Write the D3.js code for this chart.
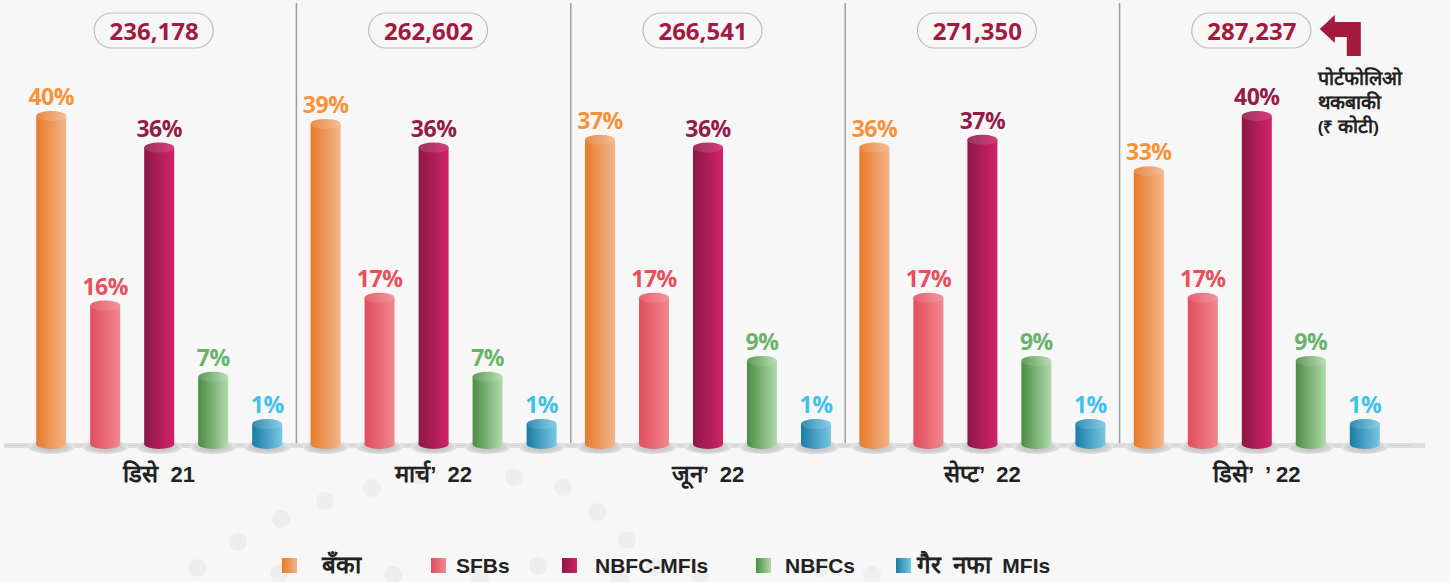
<!DOCTYPE html>
<html><head><meta charset="utf-8">
<script src="https://cdn.jsdelivr.net/npm/d3@7"></script>
<style>
html,body{margin:0;padding:0;background:#f7f7f7;}
svg{display:block;}
</style></head>
<body>
<svg id="chart" width="1450" height="582"></svg>
<script>
// ---- data ----
const categories = ["डिसे 21", "मार्च’ 22", "जून’ 22", "सेप्ट’ 22", "डिसे’ ’ 22"];
const totals = [236178, 262602, 266541, 271350, 287237];
const seriesNames = ["बँका", "SFBs", "NBFC-MFIs", "NBFCs", "गैर नफा MFIs"];
const banks     = [40, 39, 37, 36, 33];
const sfbs      = [16, 17, 17, 17, 17];
const nbfcMfis  = [36, 36, 36, 37, 40];
const nbfcs     = [7, 7, 9, 9, 9];
const nonProfit = [1, 1, 1, 1, 1];
const annotationLines = ["पोर्टफोलिओ", "थकबाकी", "(₹ कोटी)"];

const seriesValues = [banks, sfbs, nbfcMfis, nbfcs, nonProfit];
const seriesStyle = [
  {dark:"#e77a2c", light:"#f3b588", label:"#f7923a"},
  {dark:"#e14d5d", light:"#f2878f", label:"#e8505b"},
  {dark:"#8c1944", light:"#d02268", label:"#951b48"},
  {dark:"#4b8d44", light:"#b0dbab", label:"#6ab46a"},
  {dark:"#1a7ca5", light:"#78c7e4", label:"#3fc1ec"}
];

const svg = d3.select("#chart");
const W = 1450, H = 582;
svg.append("rect").attr("width", W).attr("height", H).attr("fill", "#f7f7f7");

// helper: mixed Latin / Devanagari text, Devanagari runs drawn a bit larger
function mixedText(textSel, str, size, devaScale) {
  const parts = str.split(/([\u0900-\u097F]+)/).filter(p => p.length);
  parts.forEach(p => {
    const isDeva = /[\u0900-\u097F]/.test(p);
    textSel.append("tspan").attr("font-size", isDeva ? size * devaScale : size).text(p);
  });
}

const defs = svg.append("defs");
seriesStyle.forEach((s, i) => {
  const g = defs.append("linearGradient").attr("id", "body" + i).attr("x1", 0).attr("x2", 1).attr("y1", 0).attr("y2", 0);
  g.append("stop").attr("offset", "0%").attr("stop-color", s.dark);
  g.append("stop").attr("offset", "100%").attr("stop-color", s.light);
  const t = defs.append("linearGradient").attr("id", "top" + i).attr("x1", 0).attr("x2", 1).attr("y1", 0).attr("y2", 0);
  t.append("stop").attr("offset", "0%").attr("stop-color", d3.interpolateRgb(s.dark, "#fff")(0.12));
  t.append("stop").attr("offset", "100%").attr("stop-color", d3.interpolateRgb(s.light, "#fff")(0.12));
});
const sh = defs.append("radialGradient").attr("id", "shadow");
sh.append("stop").attr("offset", "0%").attr("stop-color", "#bdbdbd");
sh.append("stop").attr("offset", "70%").attr("stop-color", "#cfcfcf");
sh.append("stop").attr("offset", "100%").attr("stop-color", "#e4e4e4");

// decorative faint dots
const dots = [[198,568],[238,542],[281,519],[325,501],[372,488],[419,476],[514,477],[563,487],[598,512],[627,540],[655,567],[279,574],[393,575],[480,578],[538,566],[620,580],[700,576],[820,568],[872,575]];
svg.append("g").selectAll("circle").data(dots).join("circle")
  .attr("cx", d => d[0]).attr("cy", d => d[1]).attr("r", 9).attr("fill", "#eeeeee");

// ---- scales ----
const x0 = d3.scaleBand().domain(categories).range([22, 1394]).padding(0);
const x1 = d3.scalePoint().domain(seriesNames).range([-108, 108]);
const y = d3.scaleLinear().domain([0, 40]).range([432, 116]);
const yBase = 444;
const barW = 30, ry = 5;

// separators
svg.append("g").selectAll("line").data(categories.slice(1)).join("line")
  .attr("x1", d => x0(d)).attr("x2", d => x0(d))
  .attr("y1", 3).attr("y2", 446)
  .attr("stroke", "#9d9d9d").attr("stroke-width", 1.5);

// baseline strip
svg.append("rect").attr("x", 4).attr("y", 443).attr("width", 1421).attr("height", 5).attr("fill", "#dedede");
svg.append("line").attr("x1", 4).attr("x2", 1413).attr("y1", 445.5).attr("y2", 445.5).attr("stroke", "#cfcfcf").attr("stroke-width", 1);

// bars
const barData = [];
categories.forEach((c, ci) => {
  seriesNames.forEach((s, si) => {
    barData.push({cat: c, ci, ser: s, si, v: seriesValues[si][ci]});
  });
});
const cx = d => x0(d.cat) + x0.bandwidth() / 2 + x1(d.ser);

const bars = svg.append("g").selectAll("g").data(barData).join("g");
bars.append("ellipse").attr("cx", cx).attr("cy", yBase + 3).attr("rx", 23).attr("ry", 7).attr("fill", "url(#shadow)");
bars.append("rect").attr("x", d => cx(d) - barW / 2).attr("y", d => y(d.v))
  .attr("width", barW).attr("height", d => yBase - y(d.v)).attr("fill", d => `url(#body${d.si})`);
bars.append("ellipse").attr("cx", cx).attr("cy", yBase).attr("rx", barW / 2).attr("ry", ry).attr("fill", d => `url(#body${d.si})`);
bars.append("ellipse").attr("cx", cx).attr("cy", d => y(d.v)).attr("rx", barW / 2).attr("ry", ry).attr("fill", d => `url(#top${d.si})`);
bars.append("text").attr("x", cx).attr("y", d => y(d.v) - ry - 6)
  .attr("text-anchor", "middle")
  .attr("font-family", "'Open Sans', sans-serif").attr("font-weight", 700).attr("font-size", 23)
  .attr("letter-spacing", -0.5)
  .attr("fill", d => seriesStyle[d.si].label)
  .text(d => d.v + "%");

// totals pills
const fmt = d3.format(",");
const pills = svg.append("g").selectAll("g").data(categories).join("g")
  .attr("transform", (d) => `translate(${x0(d) + x0.bandwidth() / 2 - 5},0)`);
pills.append("rect").attr("x", -60).attr("y", 13).attr("width", 119).attr("height", 35).attr("rx", 17.5)
  .attr("fill", "#f7f7f7").attr("stroke", "#b9bec8").attr("stroke-width", 1.2);
pills.append("text").attr("x", 0).attr("y", 39.5).attr("text-anchor", "middle")
  .attr("font-family", "'Open Sans', sans-serif").attr("font-weight", 700).attr("font-size", 24)
  .attr("fill", "#a31a3e").text((d, i) => fmt(totals[i]));

// category labels
svg.append("g").selectAll("text").data(categories).join("text")
  .attr("x", d => x0(d) + x0.bandwidth() / 2).attr("y", 482)
  .attr("text-anchor", "middle")
  .attr("font-family", "'Liberation Sans', Arial, sans-serif").attr("font-weight", 700)
  .attr("fill", "#222").attr("xml:space", "preserve").style("white-space", "pre")
  .each(function(d) { mixedText(d3.select(this), d.replace(" ", "  "), 22, 1.08); });

// arrow annotation
const lastCx = x0(categories[4]) + x0.bandwidth() / 2 - 5;
const ax = lastCx + 60 + 8;
svg.append("path")
  .attr("d", `M${ax},29 L${ax+15},15 L${ax+15},22 L${ax+41},22 L${ax+41},56 L${ax+27},56 L${ax+27},37 L${ax+15},37 L${ax+15},43 Z`)
  .attr("fill", "#a31a3e");
svg.append("g").selectAll("text").data(annotationLines).join("text")
  .attr("x", ax - 2).attr("y", (d, i) => 85 + i * 24)
  .attr("font-family", "'Liberation Sans', Arial, sans-serif").attr("font-weight", 700)
  .attr("fill", "#222")
  .each(function(d) { mixedText(d3.select(this), d, 17, 1.15); });

// legend (layout positions of swatches and text)
const legendSwatchX = [282, 431, 562, 756, 896];
const legendTextX   = [322, 456, 595, 785, 917];
const legend = svg.append("g");
seriesNames.forEach((s, i) => {
  legend.append("rect").attr("x", legendSwatchX[i]).attr("y", 558).attr("width", 15).attr("height", 15).attr("fill", `url(#body${i})`);
  const t = legend.append("text").attr("x", legendTextX[i]).attr("y", 573)
    .attr("font-family", "'Liberation Sans', Arial, sans-serif").attr("font-weight", 700)
    .attr("fill", "#222").attr("xml:space", "preserve").style("white-space", "pre");
  mixedText(t, s.replace(/ /g, "  "), 21, 1.15);
});
</script>
</body></html>
